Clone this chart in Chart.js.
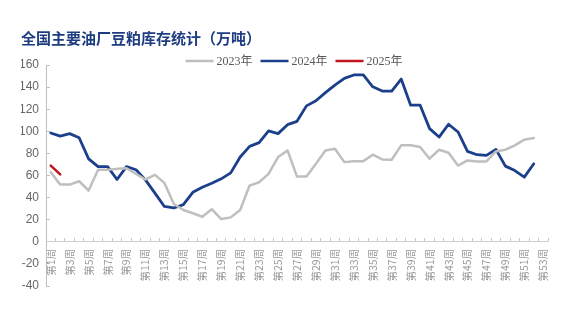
<!DOCTYPE html>
<html>
<head>
<meta charset="utf-8">
<script src="https://cdn.jsdelivr.net/npm/chart.js@4/dist/chart.umd.min.js"></script>
<style>
  html, body { margin: 0; padding: 0; background: #ffffff; }
  #wrap { width: 569px; height: 325px; }
</style>
</head>
<body>
<div id="wrap"><canvas id="c" width="569" height="325"></canvas></div>
<script>
// Weekly soybean-meal inventory at major crushing plants (10k tonnes)
const weeks = Array.from({ length: 53 }, (_, i) => '第' + (i + 1) + '周');

const stock2023 = [
  63, 51.8, 51.8, 54.8, 46.4, 65.2, 65.2, 66, 66.6, 61.5,
  56.4, 60.6, 53.3, 34.2, 28.8, 25.8, 22.7, 29.5, 20.6, 22.1,
  28.8, 50.9, 53.9, 61.5, 76.7, 82.7, 59, 59, 70.6, 82.7,
  84.2, 72.1, 73, 73, 78.8, 74.5, 74.2, 87.3, 87.3, 85.8,
  75.2, 83.3, 80.6, 69, 73.6, 72.7, 72.7, 81.8, 83.3, 87.3,
  92.4, 93.9
];

const stock2024 = [
  98.5, 95.7, 97.9, 94.2, 75, 68, 68, 56.4, 68, 65.2,
  56, 44, 32, 30.6, 33.6, 44.8, 49.4, 53, 57, 62.4,
  76.7, 86.4, 89.7, 100.3, 97.9, 106, 109, 123, 127.6, 135,
  141.8, 147.9, 151, 151, 140.3, 136.4, 136.4, 147.3, 123.6, 123.6,
  102.4, 94.8, 106.4, 99.4, 81.8, 78.8, 78.2, 83.6, 68.5, 64.5,
  58.5, 70.6
];

const stock2025 = [69, 61];

const seriesNames = ['2023年', '2024年', '2025年'];
const yTicks = { min: -40, max: 160, step: 20 };

const titleText = '全国主要油厂豆粕库存统计（万吨）';

// Legend drawn as a single centred row just above the plot area
const topLegend = {
  id: 'topLegend',
  afterDraw(chart) {
    const ctx = chart.ctx;
    const area = chart.chartArea;
    const lineLen = 28, gapLine = 3, gapItem = 8;
    ctx.save();
    ctx.font = '12px "Liberation Serif", "Noto Sans CJK SC", serif';
    ctx.textBaseline = 'middle';
    const items = chart.data.datasets.map(ds => ({
      label: ds.label, color: ds.borderColor, w: ctx.measureText(ds.label).width
    }));
    const total = items.reduce((s, it) => s + lineLen + gapLine + it.w, 0) + gapItem * (items.length - 1);
    let x = (area.left + area.right) / 2 - total / 2 - 3;
    const y = 61;
    items.forEach(it => {
      ctx.strokeStyle = it.color;
      ctx.lineWidth = 2.5;
      ctx.beginPath();
      ctx.moveTo(x, y);
      ctx.lineTo(x + lineLen, y);
      ctx.stroke();
      x += lineLen + gapLine;
      ctx.fillStyle = '#595959';
      ctx.fillText(it.label, x, y + 1);
      x += it.w + gapItem;
    });
    ctx.restore();
  }
};

new Chart(document.getElementById('c'), {
  type: 'line',
  data: {
    labels: weeks,
    datasets: [
      { label: seriesNames[0], data: stock2023, borderColor: '#bfbfbf', borderWidth: 2.5 },
      { label: seriesNames[1], data: stock2024, borderColor: '#1c3f8c', borderWidth: 2.8 },
      { label: seriesNames[2], data: stock2025, borderColor: '#c0141e', borderWidth: 2.5 }
    ]
  },
  options: {
    responsive: false,
    animation: false,
    devicePixelRatio: 1,
    layout: { padding: { left: 21, right: 21, top: 0, bottom: 39 } },
    elements: {
      point: { radius: 0, hoverRadius: 0 },
      line: { tension: 0, borderCapStyle: 'round', borderJoinStyle: 'round', fill: false }
    },
    plugins: {
      legend: { display: false },
      tooltip: { enabled: false },
      title: {
        display: true,
        text: titleText,
        align: 'start',
        color: '#1e3c80',
        font: { family: '"Noto Sans CJK SC", sans-serif', size: 15, weight: 'bold', lineHeight: 1.2 },
        padding: { top: 29, bottom: 18 }
      }
    },
    scales: {
      x: {
        type: 'category',
        offset: true,
        position: { y: 0 },
        border: { display: true, color: '#d0d0d0', width: 1 },
        grid: { display: true, offset: true, drawOnChartArea: false, drawTicks: true, tickLength: -4, color: '#c8c8c8' },
        ticks: {
          autoSkip: false,
          minRotation: 90,
          maxRotation: 90,
          padding: 11,
          color: '#9a9a9a',
          font: { family: '"Noto Sans CJK SC", sans-serif', size: 10.5 },
          callback: (v, i) => (i % 2 === 0 ? weeks[i] : '')
        }
      },
      y: {
        min: yTicks.min,
        max: yTicks.max,
        border: { display: true, color: '#bfbfbf', width: 1 },
        grid: { display: true, drawOnChartArea: false, drawTicks: true, tickLength: -4, color: '#bfbfbf' },
        ticks: {
          stepSize: yTicks.step,
          padding: 11,
          color: '#666666',
          font: { family: '"Liberation Sans", sans-serif', size: 12 }
        },
        afterFit(scale) { scale.width = 25; }
      }
    }
  },
  plugins: [topLegend]
});
</script>
</body>
</html>
